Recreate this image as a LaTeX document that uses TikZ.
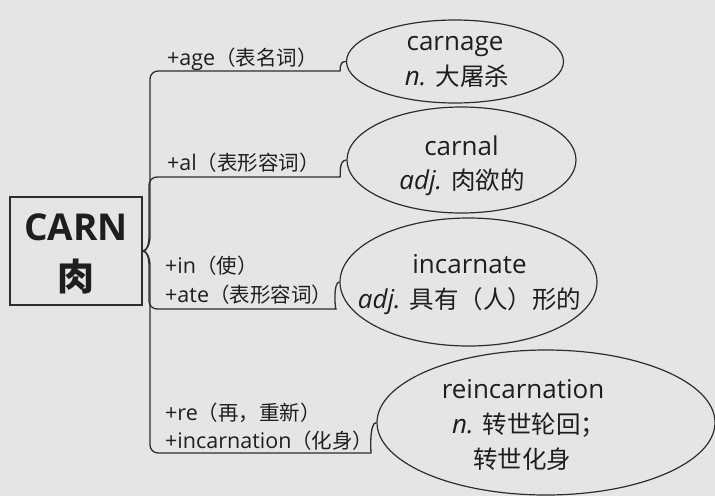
\documentclass[tikz,border=0pt]{standalone}
\usepackage{fontspec}
\setmainfont{Open Sans}
\newfontfamily\cjk{Noto Sans CJK SC}
\usetikzlibrary{shapes.geometric}
\definecolor{bg}{RGB}{229,229,229}
\definecolor{ink}{RGB}{30,30,30}
\definecolor{linec}{RGB}{45,45,45}
\newcommand\bigzh[1]{{\cjk\fontsize{24.5}{35}\selectfont #1}}
\newcommand\labzh[1]{{\cjk\fontsize{20.5}{28}\selectfont #1}}
\begin{document}
\begin{tikzpicture}[x=1pt,y=-1pt,
  ell/.style={draw=linec, line width=1.2pt, ellipse, inner sep=0pt},
  big/.style={font=\fontsize{26}{35}\selectfont, text=ink, anchor=base, inner sep=0pt},
  lab/.style={font=\fontsize{21.5}{28}\selectfont, text=ink, anchor=base west, inner sep=0pt},
  conn/.style={draw=linec, line width=1.3pt, rounded corners=8pt},
]
\fill[bg] (0,0) rectangle (715,496);
\useasboundingbox (0,0) rectangle (715,496);

% root box
\node[draw=linec, line width=1.5pt, minimum width=132pt, minimum height=108pt, inner sep=0pt] (root) at (76,251) {};
\node[font=\fontsize{37}{50}\selectfont\bfseries, text=ink, anchor=base, inner sep=0pt] (carn) at (76,240) {CARN};
\node[font=\fontsize{37}{50}\selectfont\bfseries, text=ink, anchor=base, inner sep=0pt] (rou) at (76,290) {\cjk\bfseries 肉};

% ellipses
\node[ell, minimum width=217pt, minimum height=83pt] (e1) at (455,61.5) {};
\node[ell, minimum width=229pt, minimum height=106pt] (e2) at (461.5,160) {};
\node[ell, minimum width=257pt, minimum height=128pt] (e3) at (468.5,282) {};
\node[ell, minimum width=338pt, minimum height=145pt] (e4) at (546,422.5) {};

% ellipse texts
\node[big] (t1a) at (455,50) {carnage};
\node[big] (t1b) at (457,85) {{\itshape n.} \bigzh{大屠杀}};
\node[big] (t2a) at (461.5,155) {carnal};
\node[big] (t2b) at (462,189) {{\itshape adj.} \bigzh{肉欲的}};
\node[big] (t3a) at (469.5,273) {incarnate};
\node[big] (t3b) at (469.5,308) {{\itshape adj.} \bigzh{具有（人）形的}};
\node[big] (t4a) at (523,398) {reincarnation};
\node[big, anchor=base west] (t4b) at (452,433) {{\itshape n.} \bigzh{转世轮回；}};
\node[big] (t4c) at (522,468) {\bigzh{转世化身}};

% branch labels
\node[lab] (l1) at (167,65) {+age\labzh{（表名词）}};
\node[lab] (l2) at (167,170) {+al\labzh{（表形容词）}};
\node[lab] (l3a) at (165,273) {+in\labzh{（使）}};
\node[lab] (l3b) at (165,302) {+ate\labzh{（表形容词）}};
\node[lab] (l4a) at (165,420) {+re\labzh{（再，重新）}};
\node[lab] (l4b) at (165,448) {+incarnation\labzh{（化身）}};

% connectors
\draw[conn] (root.east) .. controls (147,251) and (150,244) .. (150,228) -- (150,71) -- (332,71) .. controls (341,71) and (338,61.5) .. (e1.west);
\draw[conn] (root.east) .. controls (147,251) and (149,244) .. (149,228) -- (149,177) -- (332,177) .. controls (341,177) and (338,160) .. (e2.west);
\draw[conn] (root.east) .. controls (147,251) and (149,258) .. (149,274) -- (149,309) -- (328,309) .. controls (335,309) and (333,282) .. (e3.west);
\draw[conn] (root.east) .. controls (147,251) and (150,258) .. (150,274) -- (150,453) -- (363,453) .. controls (371,453) and (369,422.5) .. (e4.west);
\end{tikzpicture}
\end{document}
